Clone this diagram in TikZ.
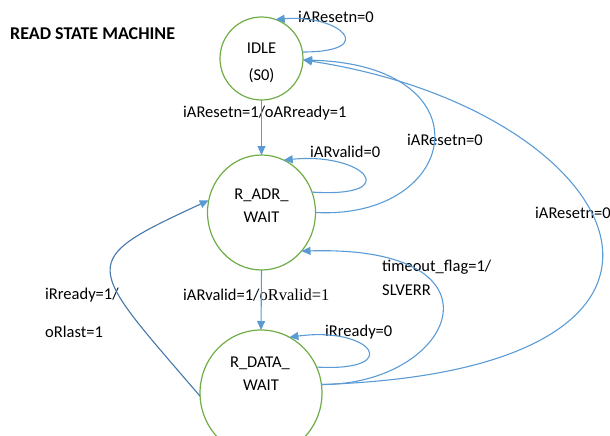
\documentclass[tikz,border=0pt]{standalone}
\usepackage{fontspec}
\setmainfont{Carlito}
\newfontfamily\timesfont{Liberation Serif}
\usetikzlibrary{arrows.meta,shapes.geometric}
\definecolor{stgreen}{RGB}{112,173,71}
\definecolor{arblue}{RGB}{91,155,213}
\definecolor{arblueD}{RGB}{70,120,170}
\begin{document}
\begin{tikzpicture}[x=1pt,y=-1pt,
  state/.style={draw=stgreen, line width=1.2pt, ellipse, inner sep=0pt, outer sep=0pt},
  lbl/.style={font=\fontsize{16.5}{19}\selectfont, inner sep=0pt, anchor=west},
  stxt/.style={font=\fontsize{16.5}{19}\selectfont, inner sep=0pt},
  conn/.style={draw=arblue, line width=1.1pt, -{Triangle[length=9pt,width=8pt,color=arblue]}},
]
\useasboundingbox (0,0) rectangle (610,436);
% states
\node[state, minimum width=83pt, minimum height=83pt] (idle) at (261.5,58.5) {};
\node[state, minimum width=108pt, minimum height=115pt] (radr) at (261.5,212.5) {};
\node[state, minimum width=122pt, minimum height=126pt] (rdata) at (261,393) {};
\node[stxt] (idleA) at (261.5,48) {IDLE};
\node[stxt] (idleB) at (261.5,76) {(S0)};
\node[stxt] (radrA) at (261.5,195) {R\_ADR\_};
\node[stxt] (radrB) at (261.5,217) {WAIT};
\node[stxt] (rdataA) at (260,363) {R\_DATA\_};
\node[stxt] (rdataB) at (261,385) {WAIT};
% title
\node[anchor=west, inner sep=0pt, font=\bfseries\fontsize{18}{21}\selectfont] (title) at (10,34) {READ STATE MACHINE};
% labels
\node[lbl] (l1) at (298,17) {iAResetn=0};
\node[lbl] (l2) at (183,113) {iAResetn=1/oARready=1};
\node[lbl] (l3) at (310,152) {iARvalid=0};
\node[lbl] (l4) at (407,140) {iAResetn=0};
\node[lbl] (l5) at (535,213) {iAResetn=0};
\node[lbl] (l6a) at (382,267) {timeout\_flag=1/};
\node[lbl] (l6b) at (382,290) {SLVERR};
\node[lbl] (l7) at (183,295) {iARvalid=1/{\timesfont oRvalid=1}};
\node[lbl] (l8) at (325,332) {iRready=0};
\node[lbl] (l9a) at (45,295) {iRready=1/};
\node[lbl] (l9b) at (45,332) {oRlast=1};
% connectors
\draw[conn] (idle.south) -- (radr.north);
\draw[conn] (radr.south) -- (rdata.north);
\draw[conn] (idle.9) .. controls (380,52) and (340,14) .. (idle.70);
\draw[conn] (radr.22) .. controls (405,198) and (365,152) .. (radr.67);
\draw[conn] (rdata.25) .. controls (405,372) and (372,326) .. (rdata.63);
\draw[conn] (radr.east) .. controls (460,220) and (490,65) .. (idle.358);
\draw[conn] (rdata.8) .. controls (760,370) and (630,110) .. (idle.358);
\draw[conn] (rdata.8) .. controls (455,385) and (515,245) .. (radr.-44);
\draw[conn, draw=arblueD] (rdata.183) .. controls (85,262) and (75,262) .. (radr.167);
\end{tikzpicture}
\end{document}
